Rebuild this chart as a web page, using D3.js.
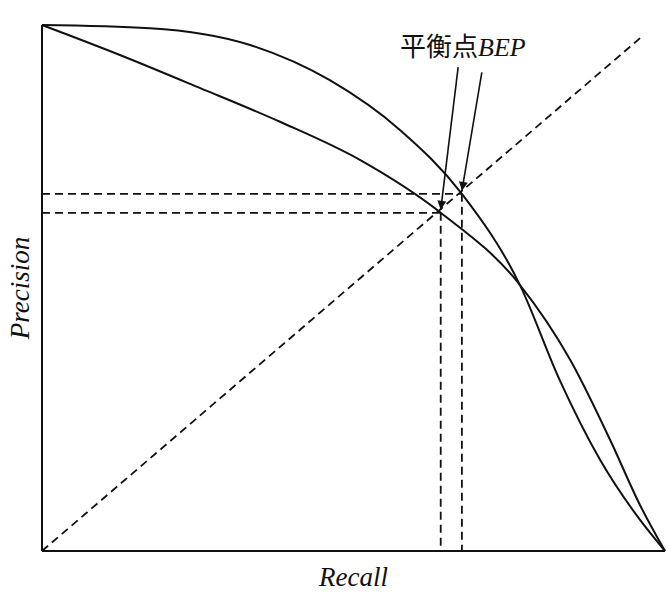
<!DOCTYPE html>
<html>
<head>
<meta charset="utf-8">
<script src="https://cdn.jsdelivr.net/npm/d3@7"></script>
<style>
  body { margin: 0; background: #fff; }
</style>
</head>
<body>
<div id="graf"></div>
<script>
// I. Datos
curvaA_x = [0, 0.173, 0.334, 0.462, 0.575, 0.674, 0.767, 0.831, 0.896, 0.960, 1]
curvaA_y = [1, 0.994, 0.962, 0.895, 0.800, 0.679, 0.506, 0.325, 0.173, 0.059, 0]
curvaB_x = [0, 0.125, 0.254, 0.382, 0.511, 0.640, 0.767, 0.848, 0.912, 0.960, 1]
curvaB_y = [1, 0.943, 0.880, 0.816, 0.743, 0.643, 0.506, 0.363, 0.211, 0.087, 0]
diagonal = [[0, 0], [0.96, 0.975]]
bep = [[0.640, 0.643], [0.674, 0.679]]
flechas_origen = [[0.668, 0.920], [0.706, 0.910]]

// II. Configuración
ancho_total = 669
alto_total = 593
margins = { top: 25, left: 42, right: 4, bottom: 42 }

svg = d3.select('#graf').append('svg')
  .attr('width', ancho_total)
  .attr('height', alto_total)

x = d3.scaleLinear().domain([0, 1]).range([margins.left, ancho_total - margins.right])
y = d3.scaleLinear().domain([0, 1]).range([alto_total - margins.bottom, margins.top])

defs = svg.append('defs')
defs.append('marker')
  .attr('id', 'flecha')
  .attr('viewBox', '0 0 10 10')
  .attr('refX', 10).attr('refY', 5)
  .attr('markerWidth', 18).attr('markerHeight', 9)
  .attr('markerUnits', 'userSpaceOnUse')
  .attr('orient', 'auto')
  .append('path').attr('d', 'M0,0 L10,5 L0,10 Z').attr('fill', '#111')

// III. Ejes (solo líneas)
svg.append('line')
  .attr('x1', x(0)).attr('y1', y(0)).attr('x2', x(0)).attr('y2', y(1))
  .attr('stroke', '#111').attr('stroke-width', 2)
svg.append('line')
  .attr('x1', x(0)).attr('y1', y(0)).attr('x2', x(1)).attr('y2', y(0))
  .attr('stroke', '#111').attr('stroke-width', 2)

// Diagonal
svg.append('line')
  .attr('x1', x(diagonal[0][0])).attr('y1', y(diagonal[0][1]))
  .attr('x2', x(diagonal[1][0])).attr('y2', y(diagonal[1][1]))
  .attr('stroke', '#111').attr('stroke-width', 1.8)
  .attr('stroke-dasharray', '8,5')

// Líneas de BEP
bep.forEach(p => {
  svg.append('line')
    .attr('x1', x(0)).attr('y1', y(p[1])).attr('x2', x(p[0])).attr('y2', y(p[1]))
    .attr('stroke', '#111').attr('stroke-width', 1.8).attr('stroke-dasharray', '8,5')
  svg.append('line')
    .attr('x1', x(p[0])).attr('y1', y(p[1])).attr('x2', x(p[0])).attr('y2', y(0))
    .attr('stroke', '#111').attr('stroke-width', 1.8).attr('stroke-dasharray', '8,5')
})

// Curvas
linea = d3.line().x(d => x(d[0])).y(d => y(d[1])).curve(d3.curveMonotoneX)
svg.append('path')
  .attr('d', linea(d3.zip(curvaA_x, curvaA_y)))
  .attr('fill', 'none').attr('stroke', '#111').attr('stroke-width', 2)
svg.append('path')
  .attr('d', linea(d3.zip(curvaB_x, curvaB_y)))
  .attr('fill', 'none').attr('stroke', '#111').attr('stroke-width', 2)

// Flechas
flechas_origen.forEach((o, i) => {
  svg.append('line')
    .attr('x1', x(o[0])).attr('y1', y(o[1]))
    .attr('x2', x(bep[i][0])).attr('y2', y(bep[i][1]) - 3)
    .attr('stroke', '#111').attr('stroke-width', 1.6)
    .attr('marker-end', 'url(#flecha)')
})

// Textos
etiqueta = svg.append('text')
  .attr('x', 400).attr('y', 56)
  .attr('font-size', 26)
  .attr('fill', '#111')
etiqueta.append('tspan').attr('font-family', 'Noto Sans CJK SC').text('平衡点')
etiqueta.append('tspan').attr('font-family', 'Liberation Serif').attr('font-style', 'italic').text('BEP')

svg.append('text')
  .attr('x', (x(0) + x(1)) / 2).attr('y', 586)
  .attr('text-anchor', 'middle')
  .attr('font-family', 'Liberation Serif').attr('font-style', 'italic')
  .attr('font-size', 27).attr('fill', '#111')
  .text('Recall')

svg.append('text')
  .attr('transform', 'translate(29,' + ((y(0) + y(1)) / 2) + ') rotate(-90)')
  .attr('text-anchor', 'middle')
  .attr('font-family', 'Liberation Serif').attr('font-style', 'italic')
  .attr('font-size', 27).attr('fill', '#111')
  .text('Precision')
</script>
</body>
</html>
